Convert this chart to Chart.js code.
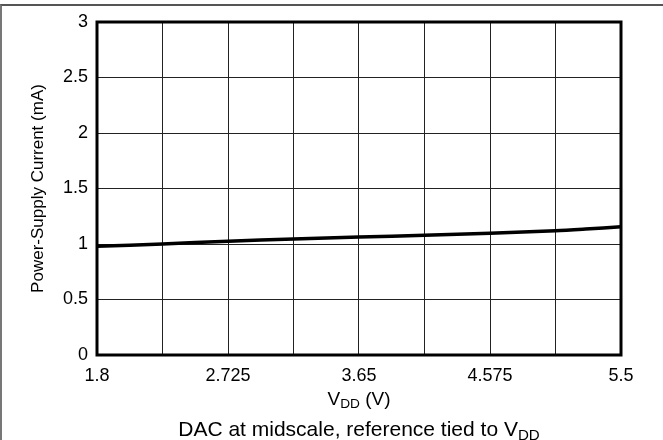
<!DOCTYPE html>
<html>
<head>
<meta charset="utf-8">
<script src="https://cdn.jsdelivr.net/npm/chart.js@4.4.0/dist/chart.umd.min.js"></script>
<style>
  html, body { margin: 0; padding: 0; background: #fff; }
  #wrap { position: relative; width: 663px; height: 440px; overflow: hidden; }
  #frame { position: absolute; left: 0; top: 4px; width: 663px; height: 436px; border-top: 2px solid #555; border-left: 2px solid #777; box-sizing: border-box; }
  canvas { position: absolute; left: 0; top: 0; }
  .lbl { position: absolute; left: 97px; width: 524px; text-align: center; font-family: "Liberation Sans", Arial, sans-serif; color: #000; white-space: nowrap; line-height: 1; }
  .lbl sub { font-size: 72%; vertical-align: -0.25em; line-height: 0; }
  #xtitle { top: 389px; font-size: 19px; }
  #caption { top: 418px; font-size: 21px; }
</style>
</head>
<body>
<div id="wrap">
  <div id="frame"></div>
  <canvas id="chart" width="663" height="440"></canvas>
  <div id="xtitle" class="lbl">V<sub>DD</sub> (V)</div>
  <div id="caption" class="lbl">DAC at midscale, reference tied to V<sub>DD</sub></div>
</div>
<script>
// supply voltage (V) and current (mA)
const vdd = [1.8, 2.2625, 2.725, 3.1875, 3.65, 4.1125, 4.575, 5.0375, 5.25, 5.5];
const current = [0.98, 1.0, 1.025, 1.045, 1.062, 1.078, 1.097, 1.12, 1.135, 1.155];

// grid positions and labels
const xTicks = [1.8, 2.2625, 2.725, 3.1875, 3.65, 4.1125, 4.575, 5.0375, 5.5];
const xTickLabels = ['1.8', '', '2.725', '', '3.65', '', '4.575', '', '5.5'];
const yTicks = [0, 0.5, 1, 1.5, 2, 2.5, 3];
const yTickLabels = ['0', '0.5', '1', '1.5', '2', '2.5', '3'];

const font = '"Liberation Sans", Arial, sans-serif';

// draws the heavy box around the plot area
const frameBox = {
    id: 'frameBox',
    afterDraw(chart) {
        const a = chart.chartArea;
        const ctx = chart.ctx;
        ctx.save();
        ctx.strokeStyle = '#000';
        ctx.lineWidth = 3;
        ctx.strokeRect(a.left, a.top, a.right - a.left, a.bottom - a.top);
        ctx.restore();
    }
};

new Chart(document.getElementById('chart'), {
    type: 'line',
    data: {
        datasets: [{
            data: vdd.map((v, i) => ({ x: v, y: current[i] })),
            borderColor: '#000',
            borderWidth: 3.5,
            pointRadius: 0,
            tension: 0.3,
            fill: false
        }]
    },
    options: {
        responsive: false,
        animation: false,
        layout: { padding: { left: 0, right: 42, top: 22, bottom: 0 } },
        plugins: { legend: { display: false }, tooltip: { enabled: false } },
        scales: {
            x: {
                type: 'linear',
                min: 1.8,
                max: 5.5,
                afterBuildTicks: axis => { axis.ticks = xTicks.map(v => ({ value: v })); },
                afterFit: axis => { axis.height = 85; },
                ticks: {
                    autoSkip: false,
                    maxRotation: 0,
                    color: '#000',
                    font: { family: font, size: 18 },
                    padding: 10,
                    callback: (v, i) => xTickLabels[i]
                },
                grid: { color: '#222', lineWidth: 1, drawTicks: false },
                border: { display: false }
            },
            y: {
                min: 0,
                max: 3,
                afterBuildTicks: axis => { axis.ticks = yTicks.map(v => ({ value: v })); },
                afterFit: axis => { axis.width = 97; },
                ticks: {
                    color: '#000',
                    font: { family: font, size: 18 },
                    padding: 9,
                    callback: (v, i) => yTickLabels[i]
                },
                grid: { color: '#222', lineWidth: 1, drawTicks: false },
                border: { display: false },
                title: {
                    display: true,
                    text: 'Power-Supply Current (mA)',
                    color: '#000',
                    font: { family: font, size: 17 },
                    padding: { top: 28, bottom: 0 }
                }
            }
        }
    },
    plugins: [frameBox]
});
</script>
</body>
</html>
